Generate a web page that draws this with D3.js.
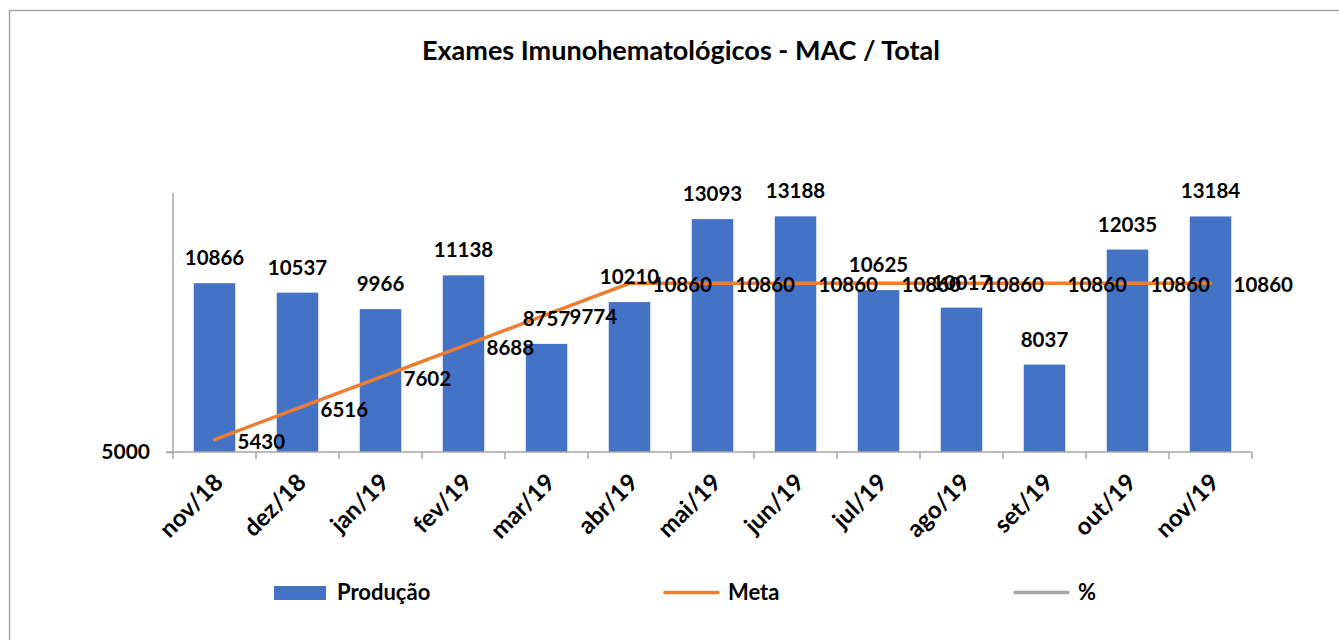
<!DOCTYPE html>
<html>
<head>
<meta charset="utf-8">
<script src="https://cdn.jsdelivr.net/npm/d3@7"></script>
<style>
    body { margin: 0; background: #fff; }
    svg text { font-family: Lato, "Open Sans", sans-serif; font-weight: bold; fill: #000; }
</style>
</head>
<body>
<div id="chart"></div>
<script>
const categories = ['nov/18', 'dez/18', 'jan/19', 'fev/19', 'mar/19', 'abr/19', 'mai/19', 'jun/19', 'jul/19', 'ago/19', 'set/19', 'out/19', 'nov/19']
const producao = [10866, 10537, 9966, 11138, 8757, 10210, 13093, 13188, 10625, 10017, 8037, 12035, 13184]
const meta = [5430, 6516, 7602, 8688, 9774, 10860, 10860, 10860, 10860, 10860, 10860, 10860, 10860]
const yTicks = [5000]
const legendItems = ['Produção', 'Meta', '%']

const w = 1339
const h = 640
const blue = '#4472C4'
const orange = '#ED7D31'
const gray = '#A5A5A5'

const svg = d3.select('#chart')
    .append('svg')
    .attr('width', w)
    .attr('height', h)

// chart frame
svg.append('rect')
    .attr('x', 9.5)
    .attr('y', 10.5)
    .attr('width', w)
    .attr('height', h)
    .attr('fill', 'none')
    .attr('stroke', '#a6a6a6')
    .attr('stroke-width', 1.5)

svg.append('text')
    .text('Exames Imunohematológicos - MAC / Total')
    .attr('x', 681)
    .attr('y', 60)
    .attr('text-anchor', 'middle')
    .style('font-size', '27px')

const xScale = d3.scaleBand()
    .domain(categories)
    .range([173, 1252])
    .paddingInner(0.5)
    .paddingOuter(0.25)

const yScale = d3.scaleLinear()
    .domain([5000, 14000])
    .range([452, 193])

const cx = (i) => xScale(categories[i]) + xScale.bandwidth() / 2

// bars
svg.selectAll('rect.bar')
    .data(producao)
    .enter()
    .append('rect')
    .attr('class', 'bar')
    .attr('x', (d, i) => xScale(categories[i]))
    .attr('y', (d) => yScale(d))
    .attr('width', xScale.bandwidth())
    .attr('height', (d) => yScale(5000) - yScale(d))
    .attr('fill', blue)

// axes
const xAxis = d3.axisBottom(xScale).tickSize(0).tickFormat('')
const gx = svg.append('g')
    .attr('transform', 'translate(0,' + yScale(5000) + ')')
    .call(xAxis)
gx.select('.domain').attr('stroke', '#a6a6a6').attr('stroke-width', 1.5)
    .attr('d', 'M' + 166 + ',0H' + 1252)

// tick marks at band boundaries
const step = xScale.step()
gx.selectAll('line.sep')
    .data(d3.range(categories.length + 1))
    .enter()
    .append('line')
    .attr('class', 'sep')
    .attr('x1', (d) => 173 + d * step)
    .attr('x2', (d) => 173 + d * step)
    .attr('y1', 0)
    .attr('y2', 7)
    .attr('stroke', '#a6a6a6')
    .attr('stroke-width', 1.5)

gx.selectAll('text.cat')
    .data(categories)
    .enter()
    .append('text')
    .attr('class', 'cat')
    .text((d) => d)
    .attr('text-anchor', 'end')
    .attr('transform', (d, i) => 'translate(' + (cx(i) + 10) + ',' + 32 + ') rotate(-45)')
    .style('font-size', '24px')

const yAxis = d3.axisLeft(yScale).tickValues(yTicks).tickFormat(d3.format('d')).tickSize(7).tickPadding(16)
const gy = svg.append('g')
    .attr('transform', 'translate(173,0)')
    .call(yAxis)
gy.select('.domain').attr('stroke', '#a6a6a6').attr('stroke-width', 1.5)
    .attr('d', 'M0,193V' + yScale(5000))
gy.selectAll('.tick line').attr('stroke', '#a6a6a6').attr('stroke-width', 1.5)
gy.selectAll('.tick text')
    .style('font-family', 'Lato, sans-serif')
    .style('font-weight', 'bold')
    .style('font-size', '21px')
    .attr('fill', '#000')

// meta line
const line = d3.line()
    .x((d, i) => cx(i))
    .y((d) => yScale(d))

svg.append('path')
    .datum(meta)
    .attr('d', line)
    .attr('fill', 'none')
    .attr('stroke', orange)
    .attr('stroke-width', 3.5)
    .attr('stroke-linecap', 'round')

// bar labels
svg.selectAll('text.barlabel')
    .data(producao)
    .enter()
    .append('text')
    .attr('class', 'barlabel')
    .text((d) => d)
    .attr('x', (d, i) => cx(i))
    .attr('y', (d) => yScale(d) - 18)
    .attr('text-anchor', 'middle')
    .style('font-size', '20.5px')

// meta labels
svg.selectAll('text.metalabel')
    .data(meta)
    .enter()
    .append('text')
    .attr('class', 'metalabel')
    .text((d) => d)
    .attr('x', (d, i) => cx(i) + 23)
    .attr('y', (d) => yScale(d) + 9)
    .style('font-size', '20.5px')

// legend
const legend = svg.append('g')
legend.append('rect')
    .attr('x', 274).attr('y', 586)
    .attr('width', 52).attr('height', 14)
    .attr('fill', blue)
legend.append('line')
    .attr('x1', 665).attr('x2', 718)
    .attr('y1', 592.5).attr('y2', 592.5)
    .attr('stroke', orange).attr('stroke-width', 3.5).attr('stroke-linecap', 'round')
legend.append('line')
    .attr('x1', 1015).attr('x2', 1068)
    .attr('y1', 592.5).attr('y2', 592.5)
    .attr('stroke', gray).attr('stroke-width', 3.5).attr('stroke-linecap', 'round')
legend.selectAll('text')
    .data(legendItems)
    .enter()
    .append('text')
    .text((d) => d)
    .attr('x', (d, i) => [337, 728, 1078][i])
    .attr('y', 600)
    .style('font-size', '22px')
</script>
</body>
</html>
